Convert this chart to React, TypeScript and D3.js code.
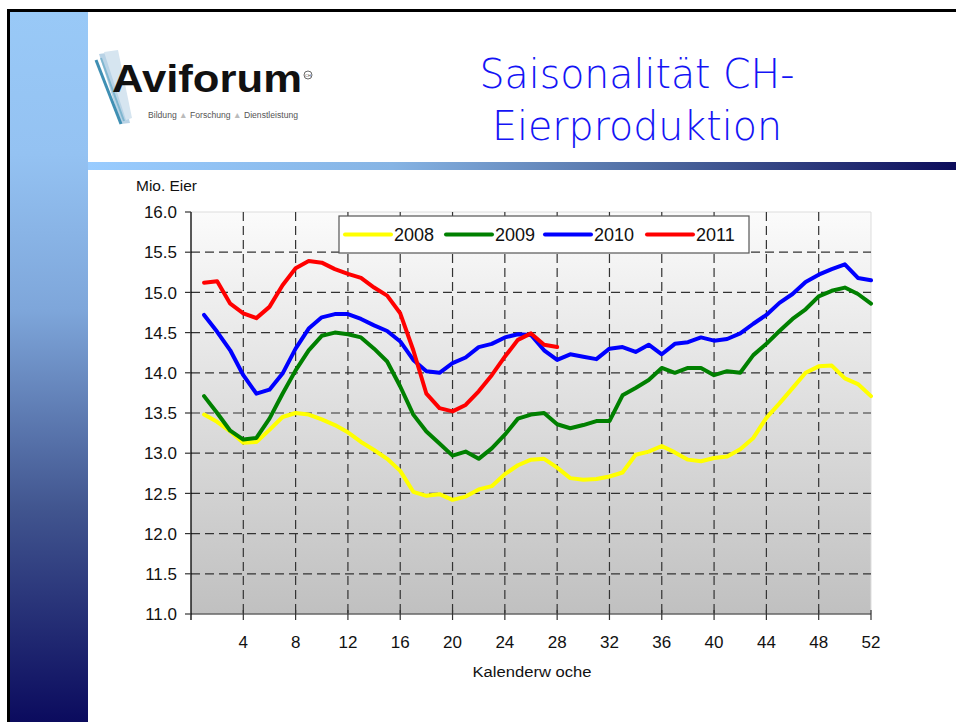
import React from "react";
import * as d3 from "d3";

const years = ["2008", "2009", "2010", "2011"];
const colors = ["#FFFF00", "#008000", "#0000FF", "#FF0000"];

const y2008 = [13.48, 13.39, 13.27, 13.13, 13.14, 13.29, 13.45, 13.5, 13.48, 13.42, 13.35, 13.26, 13.14, 13.04, 12.93, 12.78, 12.52, 12.47, 12.49, 12.42, 12.46, 12.55, 12.59, 12.74, 12.85, 12.92, 12.93, 12.82, 12.69, 12.67, 12.68, 12.71, 12.76, 12.98, 13.02, 13.09, 13.01, 12.92, 12.9, 12.94, 12.96, 13.05, 13.19, 13.44, 13.62, 13.81, 14.0, 14.08, 14.09, 13.93, 13.86, 13.71];
const y2009 = [13.71, 13.5, 13.28, 13.17, 13.19, 13.43, 13.74, 14.03, 14.28, 14.46, 14.5, 14.48, 14.44, 14.3, 14.14, 13.83, 13.48, 13.27, 13.12, 12.97, 13.02, 12.93, 13.06, 13.23, 13.43, 13.48, 13.5, 13.36, 13.31, 13.35, 13.4, 13.4, 13.72, 13.81, 13.91, 14.06, 14.0, 14.06, 14.06, 13.97, 14.02, 14.0, 14.22, 14.36, 14.52, 14.67, 14.79, 14.95, 15.02, 15.06, 14.98, 14.86];
const y2010 = [14.72, 14.51, 14.28, 13.97, 13.74, 13.79, 13.99, 14.3, 14.55, 14.69, 14.73, 14.73, 14.67, 14.59, 14.52, 14.39, 14.16, 14.02, 14.0, 14.12, 14.19, 14.32, 14.36, 14.44, 14.48, 14.47, 14.28, 14.16, 14.23, 14.2, 14.17, 14.3, 14.32, 14.26, 14.35, 14.23, 14.36, 14.38, 14.44, 14.4, 14.42, 14.49, 14.61, 14.72, 14.87, 14.98, 15.13, 15.22, 15.29, 15.35, 15.18, 15.15];
const y2011 = [15.12, 15.14, 14.86, 14.74, 14.68, 14.82, 15.09, 15.3, 15.39, 15.37, 15.29, 15.23, 15.18, 15.06, 14.96, 14.74, 14.28, 13.74, 13.56, 13.52, 13.6, 13.77, 13.97, 14.2, 14.41, 14.49, 14.35, 14.32];

const xTicks = [4, 8, 12, 16, 20, 24, 28, 32, 36, 40, 44, 48, 52];
const yTicks = [11.0, 11.5, 12.0, 12.5, 13.0, 13.5, 14.0, 14.5, 15.0, 15.5, 16.0];

const titleLines = ["Saisonalität CH-", "Eierproduktion"];

export default function App() {
  const x = d3.scaleLinear().domain([0, 52]).range([191, 871]);
  const y = d3.scaleLinear().domain([11, 16]).range([614, 212]);
  const line = d3
    .line<number>()
    .x((_, i) => x(i + 1))
    .y((d) => y(d));
  const series = [y2008, y2009, y2010, y2011];
  const font = "'Liberation Sans', Arial, sans-serif";

  const legendX = [345, 446, 545, 647];

  return (
    <svg
      width={956}
      height={722}
      style={{ position: "absolute", left: 0, top: 0, background: "#fff" }}
      fontFamily={font}
    >
      <defs>
        <linearGradient id="leftbar" x1="0" y1="0" x2="0" y2="1">
          <stop offset="0" stopColor="#99c9f7" />
          <stop offset="0.2" stopColor="#94c2f2" />
          <stop offset="0.42" stopColor="#7ea6da" />
          <stop offset="0.7" stopColor="#41558f" />
          <stop offset="1" stopColor="#0b0b5e" />
        </linearGradient>
        <linearGradient id="band" x1="0" y1="0" x2="1" y2="0">
          <stop offset="0" stopColor="#99ccff" />
          <stop offset="0.35" stopColor="#86b4e4" />
          <stop offset="0.65" stopColor="#4e6aa0" />
          <stop offset="1" stopColor="#0c0c5a" />
        </linearGradient>
        <linearGradient id="plotbg" x1="0" y1="0" x2="0" y2="1">
          <stop offset="0" stopColor="#fbfbfb" />
          <stop offset="1" stopColor="#c0c0c0" />
        </linearGradient>
      </defs>

      {/* slide frame */}
      <rect x={10} y={12} width={78} height={710} fill="url(#leftbar)" />
      <rect x={88} y={162} width={868} height={8} fill="url(#band)" />
      <line x1={7} y1={10.5} x2={956} y2={10.5} stroke="#000" strokeWidth={3} />
      <line x1={8.5} y1={9} x2={8.5} y2={722} stroke="#000" strokeWidth={3} />

      {/* logo */}
      <g>
        <polygon points="99,54 113,52 130,123 121,124" fill="#b9d3e6" />
        <polygon points="104,52 118,50 132,118 126,120" fill="#d6e5f0" />
        <line x1={96} y1={60} x2={121} y2={124} stroke="#3f8fb3" strokeWidth={3} />
        <line x1={101} y1={58} x2={124} y2={121} stroke="#7fb6cf" strokeWidth={2} />
        <text x={112} y={92} fontSize={38} fontWeight="bold" fill="#111" textLength={190} lengthAdjust="spacingAndGlyphs">
          Aviforum
        </text>
        <circle cx={308} cy={75} r={4} fill="none" stroke="#444" strokeWidth={0.8} />
        <text x={308} y={76.5} fontSize={4} textAnchor="middle" fill="#444">CH</text>
        <text x={148} y={118} fontSize={8.5} fill="#555" textLength={150} lengthAdjust="spacingAndGlyphs">
          Bildung <tspan fill="#bbb">▲</tspan> Forschung <tspan fill="#bbb">▲</tspan> Dienstleistung
        </text>
      </g>

      {/* title */}
      {titleLines.map((t, i) => (
        <text
          key={t}
          x={637}
          y={88 + i * 52}
          fontSize={41}
          fill="#1414f5"
          textAnchor="middle"
          textLength={i === 0 ? 315 : 290}
          lengthAdjust="spacingAndGlyphs"
          fontFamily="'DejaVu Sans', sans-serif"
          fontWeight={300}
        >
          {t}
        </text>
      ))}

      {/* plot background */}
      <rect x={x(0)} y={y(16)} width={x(52) - x(0)} height={y(11) - y(16)} fill="url(#plotbg)" />
      <line x1={x(0)} y1={y(16)} x2={x(52)} y2={y(16)} stroke="#ddd" />
      <line x1={x(52)} y1={y(16)} x2={x(52)} y2={y(11)} stroke="#ddd" />

      {/* grid */}
      {yTicks.slice(1, -1).map((v) => (
        <line key={"h" + v} x1={x(0)} x2={x(52)} y1={y(v)} y2={y(v)} stroke="#333" strokeWidth={1.2} strokeDasharray="9,5" />
      ))}
      {xTicks.slice(0, -1).map((w) => (
        <line key={"v" + w} x1={x(w)} x2={x(w)} y1={y(16)} y2={y(11)} stroke="#333" strokeWidth={1.2} strokeDasharray="9,5" />
      ))}

      {/* axes */}
      <line x1={x(0)} y1={y(11)} x2={x(52)} y2={y(11)} stroke="#666" strokeWidth={1.5} />
      <line x1={x(0)} y1={y(16)} x2={x(0)} y2={y(11) + 6} stroke="#000" strokeWidth={1.3} />
      {yTicks.map((v) => (
        <g key={"yt" + v}>
          <line x1={x(0) - 6} x2={x(0)} y1={y(v)} y2={y(v)} stroke="#333" strokeWidth={1.2} />
          <text x={177} y={y(v)} dy="0.36em" fontSize={17} textAnchor="end" fill="#111">
            {v.toFixed(1)}
          </text>
        </g>
      ))}
      {xTicks.map((w) => (
        <g key={"xt" + w}>
          <line x1={x(w)} x2={x(w)} y1={y(11) - 4} y2={y(11) + 6} stroke="#333" strokeWidth={1.2} />
          <text x={x(w)} y={648} fontSize={17} textAnchor="middle" fill="#111">
            {w}
          </text>
        </g>
      ))}
      <text x={136} y={191} fontSize={14} fill="#111" textLength={61} lengthAdjust="spacingAndGlyphs">
        Mio. Eier
      </text>
      <text x={532} y={677} fontSize={14} fill="#111" textAnchor="middle" textLength={119} lengthAdjust="spacingAndGlyphs">
        Kalenderw oche
      </text>

      {/* series */}
      {series.map((s, i) => (
        <path key={years[i]} d={line(s) || ""} fill="none" stroke={colors[i]} strokeWidth={4} strokeLinejoin="round" strokeLinecap="round" />
      ))}

      {/* legend */}
      <rect x={339} y={216} width={410} height={37} fill="#fff" stroke="#555" strokeWidth={1.2} />
      {years.map((yr, i) => (
        <g key={"lg" + yr}>
          <line x1={legendX[i]} x2={legendX[i] + 46} y1={234.5} y2={234.5} stroke={colors[i]} strokeWidth={4} strokeLinecap="round" />
          <text x={legendX[i] + 49} y={241} fontSize={18} fill="#111">
            {yr}
          </text>
        </g>
      ))}
    </svg>
  );
}
